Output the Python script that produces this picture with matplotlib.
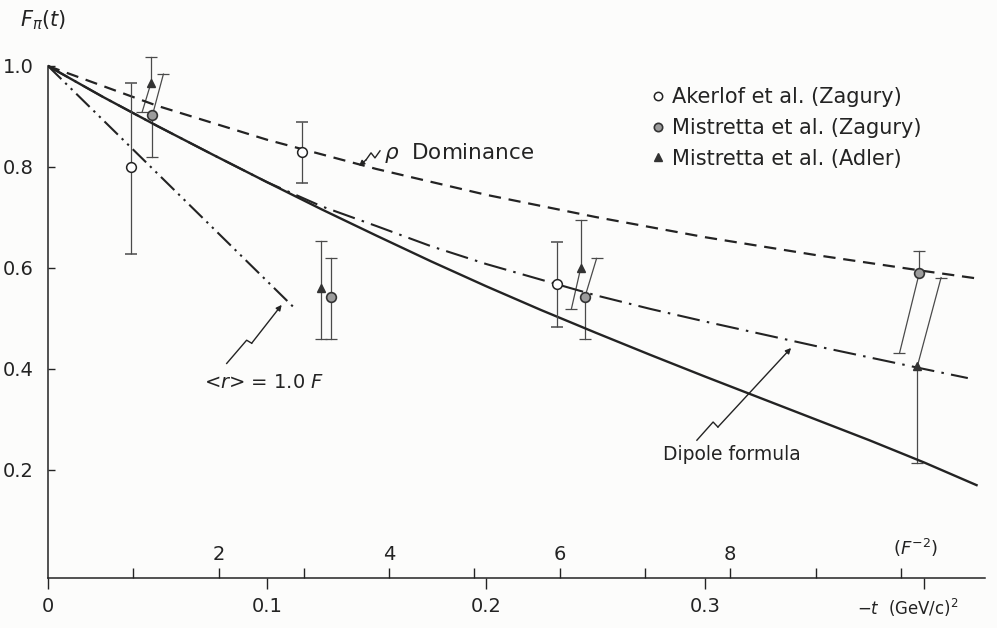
import numpy as np
import matplotlib.pyplot as plt
from matplotlib.lines import Line2D

nan = np.nan
INK = "#232323"
BAR = "#4a4a4a"
HBARC2 = 0.03894  # GeV^2 per fm^-2

# theory curves, -t in (GeV/c)^2
rho_t = [0, 0.05, 0.10, 0.15, 0.20, 0.25, 0.30, 0.35, 0.40, 0.423]
rho_F = [1.0, 0.921, 0.854, 0.796, 0.745, 0.701, 0.661, 0.626, 0.594, 0.580]

curve_t = [0, 0.025, 0.05, 0.075, 0.10, 0.125, 0.15, 0.175, 0.20, 0.225,
           0.25, 0.275, 0.30, 0.325, 0.35, 0.375, 0.40, 0.424]
solid_F = [1.0, 0.939, 0.881, 0.825, 0.770, 0.716, 0.664, 0.613, 0.564, 0.517,
           0.472, 0.428, 0.385, 0.343, 0.301, 0.259, 0.215, 0.170]

dipole_t = [0, 0.025, 0.05, 0.075, 0.10, 0.125, 0.15, 0.175, 0.20, 0.225,
            0.25, 0.275, 0.30, 0.325, 0.35, 0.375, 0.40, 0.42]
dipole_F = [1.0, 0.939, 0.881, 0.825, 0.770, 0.722, 0.683, 0.643, 0.608, 0.577,
            0.546, 0.519, 0.494, 0.470, 0.446, 0.423, 0.400, 0.382]

radius_t = [0, 0.112]
radius_F = [1.0, 0.523]

# Akerlof et al. (Zagury)
ak_t = [0.038, 0.116, 0.2323]
ak_F = [0.800, 0.830, 0.568]
ak_lo = [0.628, 0.768, 0.483]
ak_hi = [0.966, 0.889, 0.652]

# Mistretta et al. (Zagury): vertical error ends and slanted error end
mz_t = [0.0477, 0.1291, 0.2452, 0.3979]
mz_F = [0.903, 0.542, 0.543, 0.591]
mz_lo = [0.820, 0.459, 0.459, nan]
mz_hi = [nan, 0.619, nan, 0.634]
mz_st = [0.0527, nan, 0.2505, 0.3888]
mz_sF = [0.984, nan, 0.619, 0.431]

# Mistretta et al. (Adler)
ma_t = [0.0470, 0.1247, 0.2432, 0.3970]
ma_F = [0.966, 0.560, 0.599, 0.406]
ma_lo = [nan, 0.459, nan, 0.213]
ma_hi = [1.018, 0.653, 0.695, nan]
ma_st = [0.0430, nan, 0.2390, 0.4078]
ma_sF = [0.909, nan, 0.519, 0.581]

fig = plt.figure(figsize=(9.97, 6.28), dpi=100, facecolor="#fcfcfb")
ax = fig.add_axes([48 / 997, 50 / 628, 937 / 997, 537.25 / 628])
ax.set_facecolor("#fcfcfb")
ax.set_xlim(0, 937 / 2190)
ax.set_ylim(-0.0139, 1.05)

ax.plot(rho_t, rho_F, color=INK, lw=1.6, dashes=(5.5, 3.5), zorder=3)
ax.plot(curve_t, solid_F, color=INK, lw=1.7, zorder=3)
ax.plot(dipole_t, dipole_F, color=INK, lw=1.5, dashes=(11, 3.5, 1.2, 3.5), zorder=3)
ax.plot(radius_t, radius_F, color=INK, lw=1.5,
        dashes=(9, 2.6, 1.1, 2.6, 1.1, 2.6), zorder=3)

ax.errorbar(ak_t, ak_F, yerr=[np.subtract(ak_F, ak_lo), np.subtract(ak_hi, ak_F)],
            fmt="o", ms=7, mfc="white", mec=INK, mew=1.1, ecolor=BAR,
            elinewidth=0.9, capsize=4.5, capthick=0.9, zorder=4)


def bars(ts, Fs, los, his, sts, sFs):
    for t, F, lo, hi, st, sF in zip(ts, Fs, los, his, sts, sFs):
        for end in (lo, hi):
            if not np.isnan(end):
                ax.plot([t, t], [F, end], color=BAR, lw=0.9, zorder=2)
                ax.plot(t, end, marker="_", ms=9, mew=0.9, color=BAR, zorder=2)
        if not np.isnan(st):
            ax.plot([t, st], [F, sF], color=BAR, lw=0.9, zorder=2)
            ax.plot(st, sF, marker="_", ms=9, mew=0.9, color=BAR, zorder=2)


bars(mz_t, mz_F, mz_lo, mz_hi, mz_st, mz_sF)
bars(ma_t, ma_F, ma_lo, ma_hi, ma_st, ma_sF)
ax.plot(mz_t, mz_F, "o", ms=7, mfc="#9c9c9c", mec="#333333", mew=1.2, zorder=5)
ax.plot(ma_t, ma_F, "^", ms=6, mfc="#333333", mec="#333333", zorder=5)

# axes
for s in ("top", "right"):
    ax.spines[s].set_visible(False)
for s in ("left", "bottom"):
    ax.spines[s].set_color(INK)
    ax.spines[s].set_linewidth(1.1)
ax.spines["left"].set_bounds(-0.0139, 1.0)

ax.set_yticks([0.2, 0.4, 0.6, 0.8, 1.0], labels=["0.2", "0.4", "0.6", "0.8", "1.0"])
ax.tick_params(axis="y", direction="in", length=5, width=1, pad=10,
               labelsize=14, colors=INK)
ax.set_xticks([0, 0.1, 0.2, 0.3, 0.4], labels=["0", "0.1", "0.2", "0.3", ""])
ax.tick_params(axis="x", direction="out", length=8, width=1, pad=6,
               labelsize=14, colors=INK)

sec = ax.secondary_xaxis(0, functions=(lambda t: t / HBARC2, lambda q: q * HBARC2))
sec.xaxis.tick_top()
sec.spines[:].set_visible(False)
sec.set_xticks(range(1, 11), labels=["", "2", "", "4", "", "6", "", "8", "", ""])
sec.tick_params(axis="x", direction="out", length=7, width=1, pad=3,
                labelsize=14, colors=INK)

fig.text(20 / 997, 1 - 20 / 628, r"$F_\pi(t)$", fontsize=15, color=INK,
         va="center", ha="left")
fig.text(893 / 997, 1 - 548 / 628, r"($F^{-2}$)", fontsize=13, color=INK,
         va="center", ha="left")
fig.text(857 / 997, 1 - 608 / 628, r"$-t$  (GeV/c)$^2$", fontsize=12, color=INK,
         va="center", ha="left")

# labels with wavy pointers
ax.text(0.1534, 0.828, r"$\rho$  Dominance", fontsize=15.5, color=INK,
        va="center", ha="left")
ax.text(0.0986, 0.374, r"<$r$> = 1.0 $F$", fontsize=14, color=INK,
        va="center", ha="center")
ax.text(0.2808, 0.2297, "Dipole formula", fontsize=13.5, color=INK,
        va="center", ha="left")

pointers = [
    ([0.1516, 0.1493, 0.1475, 0.1452], [0.832, 0.818, 0.828, 0.814], (0.1420, 0.802)),
    ([0.0816, 0.0907, 0.0930], [0.411, 0.457, 0.451], (0.1067, 0.527)),
    ([0.2963, 0.3037, 0.3059], [0.259, 0.295, 0.285], (0.3393, 0.4416)),
]
for px, py, tip in pointers:
    ax.plot(px, py, color=INK, lw=1.0, zorder=3)
    ax.annotate("", xy=tip, xytext=(px[-1], py[-1]),
                arrowprops=dict(arrowstyle="-|>", color=INK, lw=1.0,
                                mutation_scale=8, shrinkA=0, shrinkB=0))

handles = [
    Line2D([], [], ls="none", marker="o", ms=6, mfc="white", mec=INK, mew=1.1),
    Line2D([], [], ls="none", marker="o", ms=6, mfc="#9c9c9c", mec="#333333", mew=1.2),
    Line2D([], [], ls="none", marker="^", ms=5.5, mfc="#333333", mec="#333333"),
]
labels = ["Akerlof et al. (Zagury)", "Mistretta et al. (Zagury)",
          "Mistretta et al. (Adler)"]
leg = ax.legend(handles, labels, loc="upper left",
                bbox_to_anchor=(652 / 997, 1 - 87 / 628),
                bbox_transform=fig.transFigure, frameon=False, fontsize=15,
                handlelength=0.55, handletextpad=0.42, labelspacing=0.52,
                borderpad=0, borderaxespad=0)
for txt in leg.get_texts():
    txt.set_color(INK)

fig.savefig("out.png", dpi=100, facecolor=fig.get_facecolor())
